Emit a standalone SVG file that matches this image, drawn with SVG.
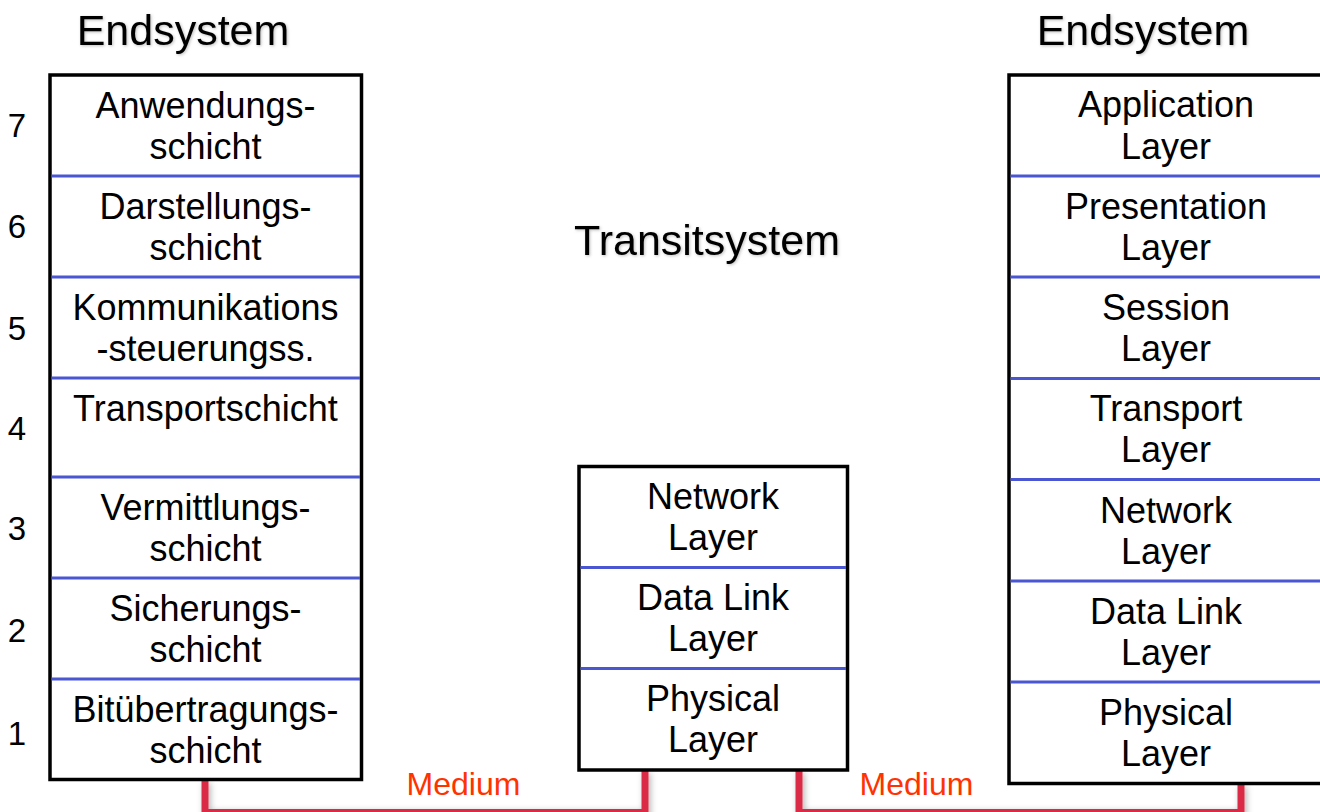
<svg xmlns="http://www.w3.org/2000/svg" width="1320" height="812" viewBox="0 0 1320 812">
<defs>
<style>
.t{font-family:"Liberation Sans",Arial,sans-serif;font-size:36px;fill:#000;text-anchor:middle}
.title{font-family:"Liberation Sans",Arial,sans-serif;font-size:43px;fill:#000;text-anchor:middle}
.num{font-family:"Liberation Sans",Arial,sans-serif;font-size:33px;fill:#000;text-anchor:middle}
.med{font-family:"Liberation Sans",Arial,sans-serif;font-size:32px;fill:#FF3300;text-anchor:middle}
.box{fill:#fff;stroke:#000;stroke-width:3.5}
.div{stroke:#4B56D2;stroke-width:3}
.wire{fill:none;stroke:#DA2944;stroke-width:7;filter:url(#sh)}
</style>
<filter id="sh" x="-20%" y="-20%" width="140%" height="140%">
<feDropShadow dx="2" dy="2" stdDeviation="3" flood-color="#000" flood-opacity="0.3"/>
</filter>
<filter id="tsh" x="-10%" y="-20%" width="120%" height="140%">
<feDropShadow dx="1" dy="1" stdDeviation="1.5" flood-color="#000" flood-opacity="0.25"/>
</filter>
</defs>
<rect width="1320" height="812" fill="#fff"/>

<g id="titles" filter="url(#tsh)">
<text class="title" x="183" y="45">Endsystem</text>
<text class="title" x="1143" y="45">Endsystem</text>
<text class="title" x="707" y="255">Transitsystem</text>
</g>

<g id="numbers">
<text class="num" x="17" y="137">7</text>
<text class="num" x="17" y="238">6</text>
<text class="num" x="17" y="340">5</text>
<text class="num" x="17" y="440">4</text>
<text class="num" x="17" y="540">3</text>
<text class="num" x="17" y="642">2</text>
<text class="num" x="17" y="745">1</text>
</g>

<g id="connectors">
<path class="wire" d="M205,781 V812.5 H645 V771"/>
<path class="wire" d="M799,771 V812.5 H1241 V785"/>
</g>

<g id="left-endsystem">
<rect class="box" x="50" y="75" width="311.5" height="704.5"/>
<line class="div" x1="51.5" y1="176" x2="360" y2="176"/>
<line class="div" x1="51.5" y1="277" x2="360" y2="277"/>
<line class="div" x1="51.5" y1="378" x2="360" y2="378"/>
<line class="div" x1="51.5" y1="477" x2="360" y2="477"/>
<line class="div" x1="51.5" y1="578" x2="360" y2="578"/>
<line class="div" x1="51.5" y1="679" x2="360" y2="679"/>
<text class="t" x="205.5" y="118">Anwendungs-</text>
<text class="t" x="205.5" y="159">schicht</text>
<text class="t" x="205.5" y="219">Darstellungs-</text>
<text class="t" x="205.5" y="260">schicht</text>
<text class="t" x="205.5" y="320">Kommunikations</text>
<text class="t" x="205.5" y="361">-steuerungss.</text>
<text class="t" x="205.5" y="421">Transportschicht</text>
<text class="t" x="205.5" y="520">Vermittlungs-</text>
<text class="t" x="205.5" y="561">schicht</text>
<text class="t" x="205.5" y="621">Sicherungs-</text>
<text class="t" x="205.5" y="662">schicht</text>
<text class="t" x="205.5" y="722">Bitübertragungs-</text>
<text class="t" x="205.5" y="763">schicht</text>
</g>

<g id="transitsystem">
<rect class="box" x="579" y="466.5" width="268.5" height="303.5"/>
<line class="div" x1="580.5" y1="567.5" x2="846" y2="567.5"/>
<line class="div" x1="580.5" y1="668.5" x2="846" y2="668.5"/>
<text class="t" x="713" y="509">Network</text>
<text class="t" x="713" y="550">Layer</text>
<text class="t" x="713" y="610">Data Link</text>
<text class="t" x="713" y="651">Layer</text>
<text class="t" x="713" y="711">Physical</text>
<text class="t" x="713" y="752">Layer</text>
</g>

<g id="right-endsystem">
<rect class="box" x="1009" y="75" width="320" height="708.5"/>
<line class="div" x1="1010.5" y1="176" x2="1322" y2="176"/>
<line class="div" x1="1010.5" y1="277" x2="1322" y2="277"/>
<line class="div" x1="1010.5" y1="378.5" x2="1322" y2="378.5"/>
<line class="div" x1="1010.5" y1="479.5" x2="1322" y2="479.5"/>
<line class="div" x1="1010.5" y1="581" x2="1322" y2="581"/>
<line class="div" x1="1010.5" y1="682" x2="1322" y2="682"/>
<text class="t" x="1166" y="117">Application</text>
<text class="t" x="1166" y="159">Layer</text>
<text class="t" x="1166" y="219">Presentation</text>
<text class="t" x="1166" y="260">Layer</text>
<text class="t" x="1166" y="320">Session</text>
<text class="t" x="1166" y="361">Layer</text>
<text class="t" x="1166" y="421">Transport</text>
<text class="t" x="1166" y="462">Layer</text>
<text class="t" x="1166" y="523">Network</text>
<text class="t" x="1166" y="564">Layer</text>
<text class="t" x="1166" y="624">Data Link</text>
<text class="t" x="1166" y="665">Layer</text>
<text class="t" x="1166" y="725">Physical</text>
<text class="t" x="1166" y="766">Layer</text>
</g>

<g id="labels">
<text class="med" x="463.5" y="795">Medium</text>
<text class="med" x="916.5" y="795">Medium</text>
</g>
</svg>
